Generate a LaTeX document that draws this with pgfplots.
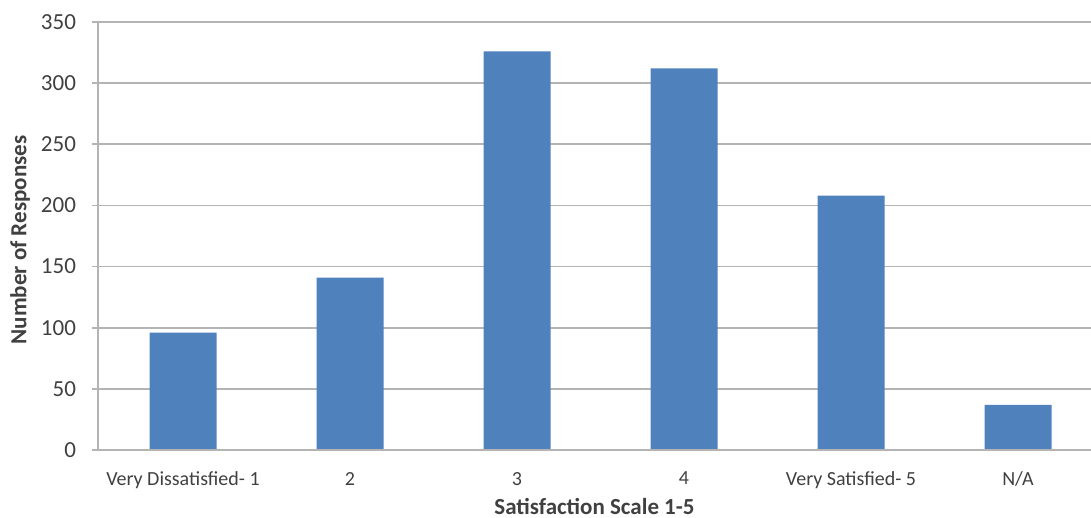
\documentclass[border=0pt]{standalone}
\usepackage{fontspec}
\setmainfont{Carlito}
\usepackage{pgfplots}
\pgfplotsset{compat=1.18}
\definecolor{barblue}{HTML}{4F81BD}
\definecolor{gridgray}{HTML}{B4B4B4}
\definecolor{txtgray}{HTML}{404040}
\begin{document}
\begin{tikzpicture}
\begin{axis}[
  at={(0,0)}, anchor=south west,
  scale only axis,
  width=496.5pt, height=214pt,
  xmin=-0.509, xmax=5.437,
  ymin=0, ymax=350,
  ytick={0,50,...,350},
  xtick={0,1,2,3,4,5},
  xticklabels={Very Dissatisfied- 1,2,3,4,Very Satisfied- 5,N/A},
  axis line style={draw=none},
  ymajorgrids, major grid style={gridgray, line width=0.8pt},
  tick style={gridgray, line width=0.8pt},
  ytick style={gridgray}, xtick style={draw=none},
  tick align=outside, major tick length=3pt,
  ytick pos=left, xtick pos=bottom,
  /pgf/number format/assume math mode=true,
  ticklabel style={text=txtgray},
  yticklabel style={font=\fontsize{11.5}{12}\selectfont, xshift=-4.5pt},
  xticklabel style={font=\fontsize{10}{11}\selectfont, yshift=-4.5pt},
  xlabel={Satisfaction Scale 1-5},
  ylabel={Number of Responses},
  label style={font=\bfseries\fontsize{11.5}{13}\selectfont, text=txtgray},
  xlabel style={at={([yshift=-32.5pt]axis description cs:0.5,0)}, anchor=base},
  ylabel style={at={([xshift=-39pt,yshift=-2pt]axis description cs:0,0.5)}, anchor=center},
  clip=false,
]
\addplot[ybar, bar width=33.5pt, fill=barblue, draw=none] coordinates {
  (0,96) (1,141) (2,326) (3,312) (4,208) (5,37)
};
\draw[gridgray, line width=0.8pt] (axis cs:-0.509,0) -- (axis cs:5.437,0);
\draw[gridgray, line width=0.8pt] (axis cs:-0.509,0) -- (axis cs:-0.509,350);
\end{axis}
\pgfresetboundingbox
\path[use as bounding box] (-49pt,-34pt) rectangle (496.5pt,225pt);
\end{tikzpicture}
\end{document}
